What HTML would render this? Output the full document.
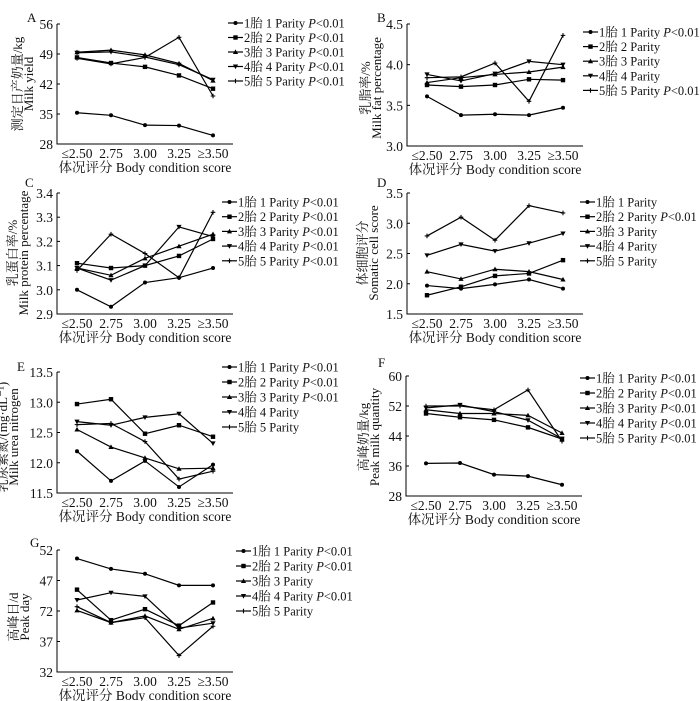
<!DOCTYPE html>
<html><head><meta charset="utf-8">
<style>
html,body{margin:0;padding:0;background:#fff;}
svg{display:block;}
text{font-family:"Liberation Serif","Noto Serif CJK SC",serif;fill:#111;}
</style></head>
<body>
<svg id="fig" width="700" height="701" viewBox="0 0 700 701"></svg>
<script>
const categories = ["≤2.50","2.75","3.00","3.25","≥3.50"];
const seriesNames = ["1胎 1 Parity","2胎 2 Parity","3胎 3 Parity","4胎 4 Parity","5胎 5 Parity"];

const aTicks = ["28","35","42","49","56"];
const aS1 = [35.3,34.7,32.4,32.3,30.0];
const aS2 = [48.2,46.9,46.0,44.0,40.9];
const aS3 = [49.4,49.9,48.8,46.8,42.8];
const aS4 = [49.3,49.5,48.3,46.5,43.0];
const aS5 = [48.0,46.7,48.2,52.9,39.2];
const aSig = [1,1,1,1,1];

const bTicks = ["3.0","3.5","4.0","4.5"];
const bS1 = [3.61,3.38,3.39,3.38,3.47];
const bS2 = [3.75,3.73,3.75,3.82,3.81];
const bS3 = [3.78,3.84,3.88,3.91,3.97];
const bS4 = [3.88,3.80,3.89,4.04,4.00];
const bS5 = [3.84,3.85,4.02,3.55,4.36];
const bSig = [1,0,0,0,1];

const cTicks = ["2.9","3.0","3.1","3.2","3.3","3.4"];
const cS1 = [3.00,2.93,3.03,3.05,3.09];
const cS2 = [3.11,3.09,3.10,3.14,3.21];
const cS3 = [3.09,3.06,3.13,3.18,3.23];
const cS4 = [3.09,3.04,3.10,3.26,3.22];
const cS5 = [3.08,3.23,3.15,3.05,3.32];
const cSig = [1,1,1,1,1];

const dTicks = ["1.5","2.0","2.5","3.0","3.5"];
const dS1 = [1.97,1.92,1.99,2.07,1.92];
const dS2 = [1.81,1.95,2.13,2.17,2.39];
const dS3 = [2.20,2.08,2.24,2.20,2.07];
const dS4 = [2.47,2.65,2.54,2.67,2.83];
const dS5 = [2.79,3.10,2.72,3.29,3.17];
const dSig = [0,1,0,0,0];

const eTicks = ["11.5","12.0","12.5","13.0","13.5"];
const eS1 = [12.19,11.70,12.03,11.60,11.97];
const eS2 = [12.97,13.05,12.48,12.62,12.43];
const eS3 = [12.55,12.26,12.08,11.90,11.91];
const eS4 = [12.68,12.62,12.75,12.81,12.32];
const eS5 = [12.63,12.65,12.35,11.73,11.86];
const eSig = [1,1,1,0,0];

const fTicks = ["28","36","44","52","60"];
const fS1 = [36.7,36.8,33.7,33.3,31.0];
const fS2 = [50.0,49.0,48.3,46.3,43.2];
const fS3 = [51.0,50.0,50.0,49.5,44.8];
const fS4 = [51.5,52.3,50.5,48.2,43.3];
const fS5 = [52.0,52.0,51.0,56.3,42.6];
const fSig = [1,1,1,1,1];

const gTicks = ["32","37","72","47","52"];
const gS1 = [50.6,48.9,48.1,46.2,46.2];
const gS2 = [45.5,40.5,42.3,39.6,43.4];
const gS3 = [42.1,40.1,41.2,39.0,40.8];
const gS4 = [43.8,45.0,44.4,39.2,40.0];
const gS5 = [42.7,40.1,40.9,34.7,39.5];
const gSig = [1,1,0,1,0];

const NS = "http://www.w3.org/2000/svg";
const svg = document.getElementById("fig");
function mk(tag, attrs, parent){
  const e = document.createElementNS(NS, tag);
  for (const k in attrs) e.setAttribute(k, attrs[k]);
  (parent||svg).appendChild(e);
  return e;
}
function marker(g, type, x, y){
  let m;
  if (type===0) m = mk("circle",{cx:x,cy:y,r:2,fill:"#000"},g);
  else if (type===1) m = mk("rect",{x:x-2.2,y:y-2.2,width:4.4,height:4.4,fill:"#000"},g);
  else if (type===2) m = mk("polygon",{points:`${x},${y-2.6} ${x-2.6},${y+2} ${x+2.6},${y+2}`,fill:"#000"},g);
  else if (type===3) m = mk("polygon",{points:`${x},${y+2.6} ${x-2.6},${y-2} ${x+2.6},${y-2}`,fill:"#000"},g);
  else m = mk("path",{d:`M${x-2.3} ${y}H${x+2.3}M${x} ${y-2.3}V${y+2.3}`,stroke:"#000","stroke-width":1.1},g);
  
  
}

const panels = [
 {id:"a",label:"A",lx:27,ly:22,ax:57,top:24,bot:144,min:28,max:56,ticks:aTicks,series:[aS1,aS2,aS3,aS4,aS5],sig:aSig,
  yt:["测定日产奶量/kg","Milk yield"],ytx:[22,33],yty:84,legX:228,legY:23,legDy:14.5},
 {id:"b",label:"B",lx:377,ly:22,ax:407,top:24,bot:146,min:3.0,max:4.5,ticks:bTicks,series:[bS1,bS2,bS3,bS4,bS5],sig:bSig,
  yt:["乳脂率/%","Milk fat percentage"],ytx:[370,381],yty:88,legX:583,legY:32,legDy:14.6},
 {id:"c",label:"C",lx:25,ly:187,ax:57,top:193,bot:314,min:2.9,max:3.4,ticks:cTicks,series:[cS1,cS2,cS3,cS4,cS5],sig:cSig,
  yt:["乳蛋白率/%","Milk protein percentage"],ytx:[17,28],yty:253,legX:222,legY:202,legDy:14.7},
 {id:"d",label:"D",lx:377,ly:187,ax:407,top:193,bot:314,min:1.5,max:3.5,ticks:dTicks,series:[dS1,dS2,dS3,dS4,dS5],sig:dSig,
  yt:["体细胞评分","Somatic cell score"],ytx:[367,378],yty:253,legX:580,legY:202,legDy:14.7},
 {id:"e",label:"E",lx:17,ly:371,ax:57,top:372,bot:493,min:11.5,max:13.5,ticks:eTicks,series:[eS1,eS2,eS3,eS4,eS5],sig:eSig,
  yt:["乳尿素氮/(mg·dL⁻¹)","Milk urea nitrogen"],ytx:[7,18],yty:437,legX:222,legY:367,legDy:15},
 {id:"f",label:"F",lx:378,ly:367,ax:406,top:376,bot:496,min:28,max:60,ticks:fTicks,series:[fS1,fS2,fS3,fS4,fS5],sig:fSig,
  yt:["高峰奶量/kg","Peak milk quantity"],ytx:[368,379],yty:437,legX:580,legY:378,legDy:15},
 {id:"g",label:"G",lx:30,ly:547,ax:57,top:550,bot:672,min:32,max:52,ticks:gTicks,series:[gS1,gS2,gS3,gS4,gS5],sig:gSig,
  yt:["高峰日/d","Peak day"],ytx:[18,29],yty:617,legX:236,legY:551,legDy:15}
];

panels.forEach(p=>{
  const g = mk("g",{});
  
  
  const x0 = p.ax+20, step = 34, xEnd = p.ax+176;
  const xs = i => x0 + i*step;
  const ys = v => p.bot - (v-p.min)/(p.max-p.min)*(p.bot-p.top);
  const lab = mk("text",{x:p.lx,y:p.ly,"font-size":13},g); lab.textContent=p.label;
  
  
  const axes = mk("path",{d:`M${p.ax} ${p.top}V${p.bot}H${xEnd}`,stroke:"#000","stroke-width":1,fill:"none"},g);
  
  
  const n = p.ticks.length;
  p.ticks.forEach((t,i)=>{
    const y = p.bot - i*(p.bot-p.top)/(n-1);
    const tk = mk("line",{x1:p.ax,x2:p.ax+3,y1:y,y2:y,stroke:"#000"},g);
    
    
    const tl = mk("text",{x:p.ax-4,y:y+5,"font-size":13.5,"text-anchor":"end"},g); tl.textContent=t;
    
    
  });
  categories.forEach((c,i)=>{
    const tl = mk("text",{x:xs(i),y:p.bot+14,"font-size":13.5,"text-anchor":"middle"},g); tl.textContent=c;
    
    
  });
  const xt = mk("text",{x:x0+68,y:p.bot+28,"font-size":13.5,"text-anchor":"middle"},g); xt.textContent="体况评分 Body condition score";
  
  
  p.yt.forEach((t,k)=>{
    const yt = mk("text",{x:p.ytx[k],y:p.yty,"font-size":13,"text-anchor":"middle",transform:`rotate(-90 ${p.ytx[k]} ${p.yty})`},g); yt.textContent=t;
    
    
  });
  p.series.forEach((s,si)=>{
    const sg = mk("g",{},g);
    
    
    const ln = mk("polyline",{points:s.map((v,i)=>xs(i)+","+ys(v)).join(" "),fill:"none",stroke:"#000","stroke-width":1.2},sg);
    
    
    s.forEach((v,i)=>marker(sg,si,xs(i),ys(v)));
    const ly = p.legY + si*p.legDy;
    const le = mk("g",{},g);
    
    
    mk("line",{x1:p.legX,x2:p.legX+15,y1:ly,y2:ly,stroke:"#000","stroke-width":1.2},le);
    marker(le,si,p.legX+7.5,ly);
    const txt = mk("text",{x:p.legX+16,y:ly+4.5,"font-size":12.5},le);
    txt.textContent = seriesNames[si];
    if (p.sig[si]){
      const t1 = mk("tspan",{"font-style":"italic"},txt); t1.textContent=" P";
      const t2 = mk("tspan",{},txt); t2.textContent="<0.01";
    }
  });
});
</script>
</body></html>
